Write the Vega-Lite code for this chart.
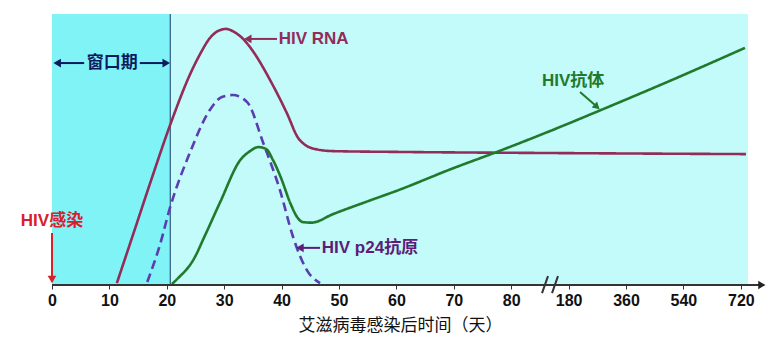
{
  "$schema": "https://vega.github.io/schema/vega-lite/v6.json",
  "width": 696,
  "height": 271,
  "autosize": "none",
  "padding": {"left": 52, "top": 14, "right": 33, "bottom": 67},
  "background": "white",
  "config": {"view": {"stroke": null, "fill": "#c3fafa"}},
  "datasets": {
    "curves": [
      {"series": "RNA", "day": 11.3, "level": 0.7},
      {"series": "RNA", "day": 14.5, "level": 21.0},
      {"series": "RNA", "day": 17.1, "level": 37.6},
      {"series": "RNA", "day": 20.9, "level": 60.9},
      {"series": "RNA", "day": 24.0, "level": 77.5},
      {"series": "RNA", "day": 25.8, "level": 85.2},
      {"series": "RNA", "day": 27.5, "level": 91.1},
      {"series": "RNA", "day": 28.9, "level": 93.7},
      {"series": "RNA", "day": 30.3, "level": 94.5},
      {"series": "RNA", "day": 31.7, "level": 93.4},
      {"series": "RNA", "day": 33.3, "level": 90.8},
      {"series": "RNA", "day": 35.0, "level": 86.3},
      {"series": "RNA", "day": 38.0, "level": 75.6},
      {"series": "RNA", "day": 40.9, "level": 63.5},
      {"series": "RNA", "day": 42.9, "level": 54.2},
      {"series": "RNA", "day": 44.1, "level": 51.7},
      {"series": "RNA", "day": 45.8, "level": 50.2},
      {"series": "RNA", "day": 49.0, "level": 49.4},
      {"series": "RNA", "day": 60.6, "level": 49.1},
      {"series": "RNA", "day": 147.6, "level": 48.7},
      {"series": "RNA", "day": 736, "level": 48.3},
      {"series": "p24", "day": 16.6, "level": 1.1},
      {"series": "p24", "day": 18.8, "level": 14.8},
      {"series": "p24", "day": 20.6, "level": 28.8},
      {"series": "p24", "day": 24.0, "level": 48.7},
      {"series": "p24", "day": 27.5, "level": 64.6},
      {"series": "p24", "day": 29.6, "level": 69.4},
      {"series": "p24", "day": 31.5, "level": 70.1},
      {"series": "p24", "day": 34.0, "level": 67.5},
      {"series": "p24", "day": 36.8, "level": 52.4},
      {"series": "p24", "day": 39.7, "level": 35.1},
      {"series": "p24", "day": 42.0, "level": 17.7},
      {"series": "p24", "day": 44.4, "level": 5.5},
      {"series": "p24", "day": 46.7, "level": 0.7},
      {"series": "Ab", "day": 20.9, "level": 0.4},
      {"series": "Ab", "day": 22.0, "level": 2.6},
      {"series": "Ab", "day": 24.6, "level": 9.2},
      {"series": "Ab", "day": 26.7, "level": 18.5},
      {"series": "Ab", "day": 29.3, "level": 30.6},
      {"series": "Ab", "day": 32.8, "level": 46.1},
      {"series": "Ab", "day": 34.5, "level": 49.4},
      {"series": "Ab", "day": 35.9, "level": 50.9},
      {"series": "Ab", "day": 37.3, "level": 50.2},
      {"series": "Ab", "day": 38.5, "level": 46.1},
      {"series": "Ab", "day": 39.9, "level": 39.5},
      {"series": "Ab", "day": 41.5, "level": 30.3},
      {"series": "Ab", "day": 42.7, "level": 25.1},
      {"series": "Ab", "day": 43.7, "level": 23.2},
      {"series": "Ab", "day": 45.2, "level": 23.0},
      {"series": "Ab", "day": 49.0, "level": 26.2},
      {"series": "Ab", "day": 55.4, "level": 31.2},
      {"series": "Ab", "day": 60.6, "level": 35.2},
      {"series": "Ab", "day": 69.3, "level": 42.6},
      {"series": "Ab", "day": 78.0, "level": 49.5},
      {"series": "Ab", "day": 147.6, "level": 56.8},
      {"series": "Ab", "day": 278, "level": 64.4},
      {"series": "Ab", "day": 507, "level": 75.8},
      {"series": "Ab", "day": 733, "level": 87.5}
    ],
    "window": [{"start": 0, "end": 20.6}],
    "notes": [
      {"key": "RNA", "text": "HIV RNA", "day": 39.5, "level": 90.6},
      {"key": "Ab", "text": "HIV抗体", "day": 133.7, "level": 75.3},
      {"key": "p24text", "text": "HIV p24抗原", "day": 47.0, "level": 13.7},
      {"key": "window", "text": "窗口期", "day": 10.5, "level": 81.9},
      {"key": "infection", "text": "HIV感染", "day": 0, "level": 23.6}
    ],
    "arrows": [
      {"key": "RNA", "day": 39.2, "level": 90.8, "day2": 34.3, "level2": 90.8},
      {"key": "window", "day": 5.6, "level": 81.9, "day2": 1.0, "level2": 81.9},
      {"key": "window", "day": 15.3, "level": 81.9, "day2": 19.8, "level2": 81.9},
      {"key": "p24text", "day": 46.7, "level": 13.7, "day2": 43.3, "level2": 13.7},
      {"key": "Ab", "day": 215.8, "level": 71.2, "day2": 268, "level2": 65.9},
      {"key": "infection", "day": 0, "level": 19.2, "day2": 0, "level2": 2.5}
    ],
    "heads": [
      {"key": "RNA", "dir": "left", "day": 34.1, "level": 90.8},
      {"key": "window", "dir": "left", "day": 0.9, "level": 81.9},
      {"key": "window", "dir": "right", "day": 19.9, "level": 81.9},
      {"key": "p24text", "dir": "left", "day": 43.2, "level": 13.7},
      {"key": "infection", "dir": "down", "day": 0, "level": 2.0}
    ],
    "diag": [{"key": "Ab", "day": 269, "level": 65.7}],
    "axisline": [{"day": 0, "day2": 780, "level": 0}],
    "axishead": [{"day": 786, "level": 0}],
    "brk": [
      {"day": 133.7, "level": -3, "day2": 144.1, "level2": 3.3},
      {"day": 151.1, "level": -3, "day2": 161.5, "level2": 3.3}
    ]
  },
  "encoding": {
    "x": {
      "field": "day", "type": "quantitative",
      "scale": {"type": "linear", "domain": [0, 80, 180, 742.5], "range": [0, 459.2, 516.6, 696], "nice": false, "zero": false},
      "axis": {
        "values": [0, 10, 20, 30, 40, 50, 60, 70, 80, 180, 360, 540, 720],
        "domain": false, "grid": false,
        "tickColor": "#333333", "tickSize": 4, "tickWidth": 1,
        "labelFont": "Liberation Sans", "labelFontSize": 16, "labelFontWeight": "bold", "labelColor": "#111111",
        "labelPadding": 3, "labelFlush": false,
        "title": "艾滋病毒感染后时间（天）",
        "titleFont": "Noto Sans CJK SC", "titleFontSize": 17, "titleFontWeight": "normal", "titleColor": "#111111",
        "titlePadding": 9
      }
    },
    "y": {
      "field": "level", "type": "quantitative",
      "scale": {"domain": [0, 100], "nice": false, "zero": false},
      "axis": {"labels": false, "ticks": false, "grid": false, "title": null, "domainColor": "#1a3060", "domainWidth": 1}
    },
    "color": {"field": "key", "type": "nominal", "scale": {"domain": ["RNA", "p24", "Ab", "p24text", "window", "infection"], "range": ["#922c58", "#5b3db0", "#217a2c", "#5c1d78", "#0d1b5e", "#d8202a"]}, "legend": null}
  },
  "layer": [
    {
      "data": {"name": "window"},
      "mark": {"type": "rect", "color": "#80f3f7"},
      "encoding": {"x": {"field": "start", "type": "quantitative"}, "x2": {"field": "end"}, "y": null, "color": null}
    },
    {
      "data": {"name": "window"},
      "mark": {"type": "rule", "color": "#1a3a6a", "strokeWidth": 1},
      "encoding": {"x": {"field": "end", "type": "quantitative"}, "y": null, "color": null}
    },
    {
      "data": {"name": "curves"},
      "mark": {"type": "line", "interpolate": "monotone", "strokeWidth": 2.6},
      "encoding": {
        "color": {"field": "series", "type": "nominal", "legend": null},
        "strokeDash": {"field": "series", "type": "nominal", "scale": {"domain": ["RNA", "p24", "Ab"], "range": [[1, 0], [9, 5], [1, 0]]}, "legend": null},
        "strokeWidth": {"field": "series", "type": "nominal", "scale": {"domain": ["RNA", "p24", "Ab"], "range": [2.4, 2.8, 3]}, "legend": null}
      }
    },
    {
      "data": {"name": "arrows"},
      "mark": {"type": "rule", "strokeWidth": 2},
      "encoding": {"x2": {"field": "day2"}, "y2": {"field": "level2"}}
    },
    {
      "data": {"name": "heads"},
      "mark": {"type": "point", "filled": true, "opacity": 1, "size": 75},
      "encoding": {
        "shape": {"field": "dir", "type": "nominal", "scale": {"domain": ["left", "right", "down"], "range": ["triangle-left", "triangle-right", "triangle-down"]}, "legend": null}
      }
    },
    {
      "data": {"name": "diag"},
      "mark": {"type": "point", "filled": true, "opacity": 1, "size": 65, "shape": "triangle-right", "angle": 42}
    },
    {
      "data": {"name": "notes"},
      "transform": [{"filter": "datum.key !== 'window' && datum.key !== 'infection'"}],
      "mark": {"type": "text", "align": "left", "baseline": "middle", "font": "Liberation Sans, Noto Sans CJK SC", "fontSize": 17, "fontWeight": "bold"},
      "encoding": {"text": {"field": "text"}}
    },
    {
      "data": {"name": "notes"},
      "transform": [{"filter": "datum.key === 'window' || datum.key === 'infection'"}],
      "mark": {"type": "text", "align": "center", "baseline": "middle", "font": "Liberation Sans, Noto Sans CJK SC", "fontSize": 17, "fontWeight": "bold"},
      "encoding": {"text": {"field": "text"}}
    },
    {
      "data": {"name": "axisline"},
      "mark": {"type": "rule", "color": "#333333", "strokeWidth": 2},
      "encoding": {"x2": {"field": "day2"}, "color": null}
    },
    {
      "data": {"name": "axishead"},
      "mark": {"type": "point", "shape": "triangle-right", "filled": true, "opacity": 1, "size": 70, "color": "#222222"},
      "encoding": {"color": null}
    },
    {
      "data": {"name": "brk"},
      "mark": {"type": "rule", "color": "#333333", "strokeWidth": 2},
      "encoding": {"x2": {"field": "day2"}, "y2": {"field": "level2"}, "color": null}
    }
  ]
}
